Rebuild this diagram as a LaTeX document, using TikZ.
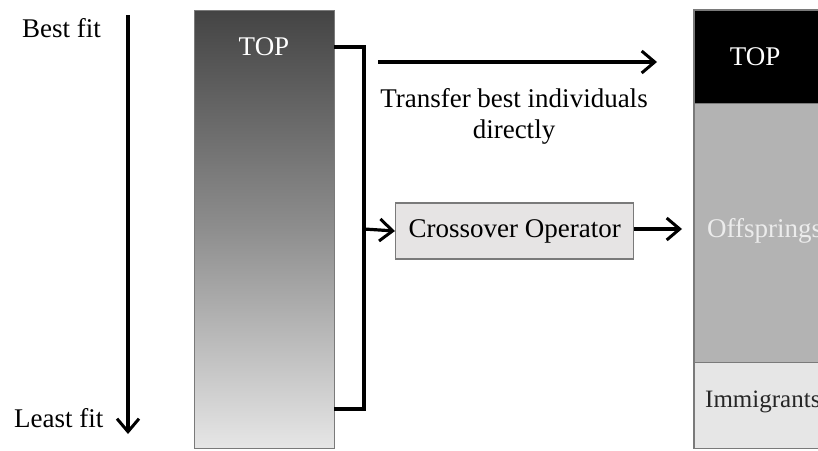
\documentclass[tikz,border=0pt]{standalone}
\usepackage{fontspec}
\setmainfont{Liberation Serif}
\usetikzlibrary{arrows.meta}
\definecolor{popdark}{HTML}{444444}
\definecolor{popmid}{HTML}{8E8E8E}
\definecolor{poplight}{HTML}{E6E6E6}
\definecolor{offgray}{HTML}{B3B3B3}
\definecolor{immgray}{HTML}{E6E6E6}
\definecolor{boxfill}{HTML}{E6E4E4}
\definecolor{edgegray}{HTML}{7A7A7A}
\definecolor{offtext}{HTML}{ECECEC}
\begin{document}
\begin{tikzpicture}[x=1pt,y=-1pt,
  lbl/.style={font=\fontsize{27}{31}\selectfont, inner sep=0pt},
  arr/.style={-{Straight Barb[length=13pt,width=22pt,line width=3pt]}, line width=3.2pt},
  conn/.style={line width=3.2pt},
  colbox/.style={draw=edgegray, line width=1.2pt, inner sep=0pt, anchor=north west, minimum width=140pt},
  rightbox/.style={inner sep=0pt, anchor=north west, minimum width=140pt}
]
\useasboundingbox (0,0) rectangle (818,450);
\clip (0,0) rectangle (818,450);

% left labels and arrow
\node[lbl, anchor=west] (best) at (22,28) {Best fit};
\node[lbl, anchor=west] (least) at (14,418) {Least fit};
\coordinate (atop) at (128,15);
\coordinate (abot) at (128,434);
\draw[arr] (atop) -- (abot);

% population column
\node[colbox, minimum height=438pt, top color=popdark, bottom color=poplight, middle color=popmid] (pop) at (194,10) {};
\node[lbl, text=white] (poptop) at (264,47) {TOP};

% bracket
\coordinate (bt) at (334,47);
\coordinate (bb) at (334,409);
\coordinate (bj) at (364,229);
\draw[conn] (bt) -| (bj) |- (bb);

% crossover
\node[lbl, draw=edgegray, line width=1.4pt, fill=boxfill, minimum width=238pt, minimum height=56pt, anchor=west] (cross) at (395,231) {Crossover Operator};
\draw[arr] (bj) -- (cross.west);

% transfer arrow
\coordinate (ta) at (378,62);
\coordinate (tb) at (657,62);
\draw[arr] (ta) -- (tb);
\node[lbl, align=center] (transfer) at (514,116) {Transfer best individuals\\directly};

% new population column
\node[rightbox, fill=black, minimum height=93pt] (rtop) at (694,10) {};
\node[rightbox, fill=offgray, minimum height=259pt] (roff) at (694,103) {};
\node[rightbox, fill=immgray, minimum height=86pt] (rimm) at (694,362) {};
\draw[edgegray, line width=1.2pt] (rtop.north west) rectangle (rimm.south east);
\draw[edgegray, line width=1pt] (roff.north west) -- (roff.north east);
\draw[edgegray, line width=1pt] (rimm.north west) -- (rimm.north east);
\node[lbl, text=white] (rtoplbl) at (755,57) {TOP};
\node[lbl, text=offtext, anchor=west] (offlbl) at (707,231) {Offsprings};
\node[lbl, text=black!85, anchor=west, font=\fontsize{25}{30}\selectfont] (immlbl) at (705,402) {Immigrants};

\coordinate (oe) at (682,229);
\draw[arr] (cross.east |- oe) -- (oe);
\end{tikzpicture}
\end{document}
